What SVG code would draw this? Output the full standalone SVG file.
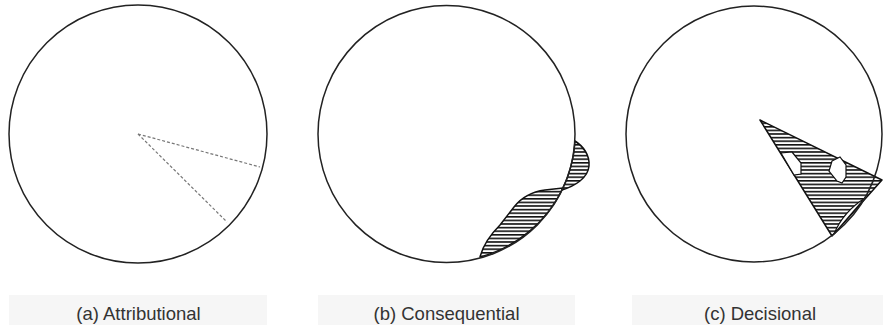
<svg xmlns="http://www.w3.org/2000/svg" width="883" height="325" viewBox="0 0 883 325">
<style>
.circ{fill:none;stroke:#222;stroke-width:1.5}
.hatch{fill:url(#hl);stroke:#111;stroke-width:1.5;stroke-linejoin:round}
.hole{fill:#fff;stroke:#111;stroke-width:1.2}
.dash{fill:none;stroke:#777;stroke-width:1.2;stroke-dasharray:3 2}
.band{fill:#f6f6f6}
.lbl{font-family:"Liberation Sans",Arial,sans-serif;font-size:18.5px;fill:#333;text-anchor:middle}
</style>
<defs>
<pattern id="hl" patternUnits="userSpaceOnUse" width="10" height="3.6">
<rect width="10" height="3.6" fill="#fff"/>
<rect width="10" height="1.6" fill="#111"/>
</pattern>
</defs>
<rect width="883" height="325" fill="#fff"/>
<g id="panel-a">
<circle class="circ" cx="138" cy="134" r="129"/>
<g id="connectors">
<line class="dash" x1="138" y1="134" x2="260" y2="167"/>
<line class="dash" x1="138" y1="134" x2="227" y2="222"/>
</g>
<rect class="band" x="9" y="295" width="258" height="30"/>
<text class="lbl" x="138.5" y="320">(a) Attributional</text>
</g>
<g id="panel-b">
<path class="hatch" d="M480,257 C483,245 492,233 500,225 L514,207 C521,198 530,192 545,190 L563,188 A128.5,128.5 0 0 1 480,257 Z"/>
<path class="hatch" d="M575,141 C583,146 590,155 589,166 C588,178 575,186 562,190 A128.5,128.5 0 0 0 575,141 Z"/>
<circle class="circ" cx="446.5" cy="134" r="128.5"/>
<rect class="band" x="318" y="295" width="257" height="30"/>
<text class="lbl" x="446.5" y="320">(b) Consequential</text>
</g>
<g id="panel-c">
<path class="hatch" d="M760,120 L882,180 L832,236 Z"/>
<path class="hole" d="M781,153 L792,152 L801,163 L801,174 L794,175 Z"/>
<path class="hole" d="M832,161 L840,157 L846,165 L846,177 L842,183 L837,181 L829,171 Z"/>
<path class="hole" d="M834,234 Q843,212 865,198 Z"/>
<circle class="circ" cx="754" cy="134" r="128"/>
<rect class="band" x="632" y="295" width="251" height="30"/>
<text class="lbl" x="760" y="320">(c) Decisional</text>
</g>
</svg>
